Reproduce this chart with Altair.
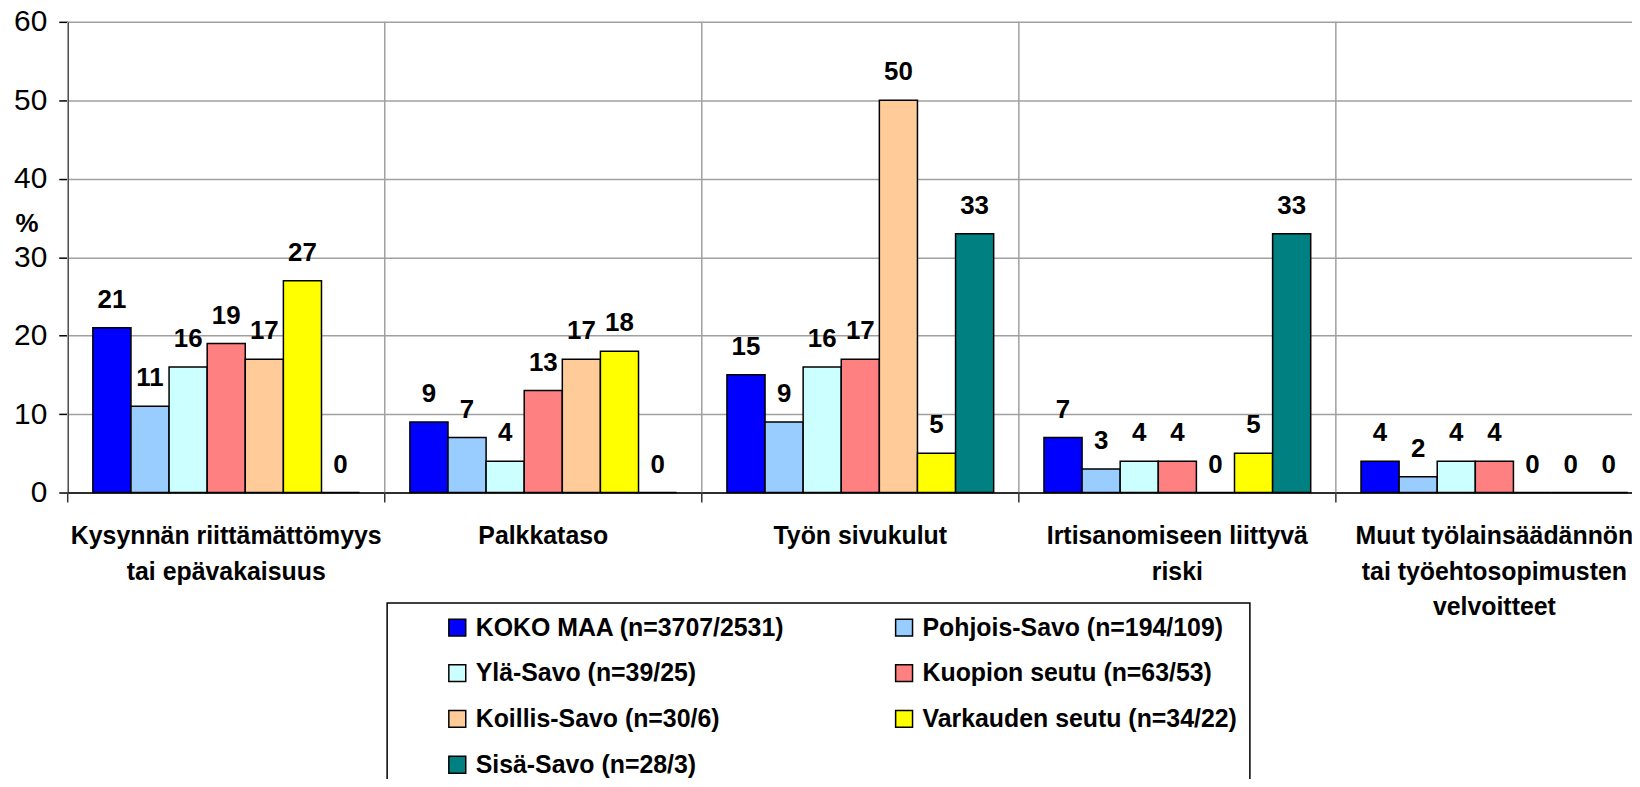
import altair as alt
import pandas as pd

categories = [
    "Kysynnän riittämättömyys\ntai epävakaisuus",
    "Palkkataso",
    "Työn sivukulut",
    "Irtisanomiseen liittyvä\nriski",
    "Muut työlainsäädännön\ntai työehtosopimusten\nvelvoitteet",
]
series = [
    "KOKO MAA (n=3707/2531)",
    "Pohjois-Savo (n=194/109)",
    "Ylä-Savo (n=39/25)",
    "Kuopion seutu (n=63/53)",
    "Koillis-Savo (n=30/6)",
    "Varkauden seutu (n=34/22)",
    "Sisä-Savo (n=28/3)",
]
colors = ["#0000FF", "#99CCFF", "#CCFFFF", "#FF8080", "#FFCC99", "#FFFF00", "#008080"]

koko_maa = [21, 9, 15, 7, 4]
pohjois_savo = [11, 7, 9, 3, 2]
yla_savo = [16, 4, 16, 4, 4]
kuopion_seutu = [19, 13, 17, 4, 4]
koillis_savo = [17, 17, 50, 0, 0]
varkauden_seutu = [27, 18, 5, 5, 0]
sisa_savo = [0, 0, 33, 33, 0]

y_ticks = [0, 10, 20, 30, 40, 50, 60]

values = [koko_maa, pohjois_savo, yla_savo, kuopion_seutu, koillis_savo, varkauden_seutu, sisa_savo]
rows = []
for s, vals in zip(series, values):
    for c, v in zip(categories, vals):
        rows.append({"cat": c, "series": s, "value": v})
df = pd.DataFrame(rows)
cat_df = pd.DataFrame({"cat": categories})

FONT = "Liberation Sans"
W, H = 1572, 473
BAND_RANGE = 1593

x_scale = alt.Scale(domain=categories, paddingInner=0, paddingOuter=0, range=[0, BAND_RANGE])
x_axis = alt.Axis(
    title=None, labelAngle=0, labelFontSize=25, labelFontWeight="bold", labelFont=FONT,
    labelColor="black", labelPadding=31, labelLineHeight=36, labelLimit=600,
    labelOverlap=False, labelExpr="split(datum.label, '\\n')", ticks=False,
    domainColor="black", domainWidth=1.5, grid=False,
)
y_scale = alt.Scale(domain=[0, 60], nice=False)
y_axis = alt.Axis(
    values=y_ticks, title="%", titleAngle=0, titleFont=FONT, titleFontSize=26,
    titleFontWeight="bold", titleColor="black", titleAlign="left", titleBaseline="middle",
    titleX=-53, titleY=203, labelFont=FONT, labelFontSize=30, labelColor="black",
    labelPadding=12, tickSize=9, tickColor="black", tickWidth=1.5,
    domainColor="black", domainWidth=1.5, gridColor="#A0A0A0", gridWidth=1.5,
)

seps = alt.Chart(cat_df).mark_rule(color="#A0A0A0", strokeWidth=1.5).encode(
    x=alt.X("cat:N", scale=x_scale, axis=x_axis, sort=categories, bandPosition=0),
)
sep_ticks = alt.Chart(cat_df).mark_rule(color="#333333", strokeWidth=1.5).encode(
    x=alt.X("cat:N", scale=x_scale, axis=x_axis, sort=categories, bandPosition=0),
    y=alt.value(H), y2=alt.value(H + 10),
)

xoff = alt.XOffset("series:N", scale=alt.Scale(domain=series, paddingInner=0, paddingOuter=0.66))

pad_nbsp = "\u00a0" * 7

bars = alt.Chart(df).mark_bar(stroke="black", strokeWidth=1.5).encode(
    x=alt.X("cat:N", scale=x_scale, axis=x_axis, sort=categories),
    xOffset=xoff,
    y=alt.Y("value:Q", scale=y_scale, axis=y_axis),
    color=alt.Color(
        "series:N",
        scale=alt.Scale(domain=series, range=colors),
        legend=alt.Legend(
            title=None, orient="none", legendX=321, legendY=584, columns=2,
            direction="horizontal",
            symbolType="square", symbolSize=289, symbolStrokeColor="black",
            symbolStrokeWidth=1.5, symbolOffset=46, labelFont=FONT, labelFontSize=25,
            labelFontWeight="bold", labelColor="black", labelLimit=800, labelOffset=6,
            rowPadding=20, columnPadding=61, padding=12, strokeColor="black",
            fillColor="white", labelExpr="datum.label + '" + pad_nbsp + "'",
        ),
    ),
)

labels = alt.Chart(df).mark_text(
    dy=-28, fontSize=26, fontWeight="bold", font=FONT, color="black", baseline="middle"
).encode(
    x=alt.X("cat:N", scale=x_scale, axis=x_axis, sort=categories),
    xOffset=xoff,
    y=alt.Y("value:Q", scale=y_scale, axis=y_axis),
    text=alt.Text("value:Q"),
)

chart = alt.layer(seps, sep_ticks, bars, labels).properties(
    width=W, height=H,
    autosize=alt.AutoSizeParams(type="none"),
    padding={"left": 60, "top": 12, "right": 0, "bottom": 286},
).configure_view(stroke=None).configure_legend(strokeWidth=1.5)

chart.save("out.html", embed_options={"renderer": "svg", "actions": False})
